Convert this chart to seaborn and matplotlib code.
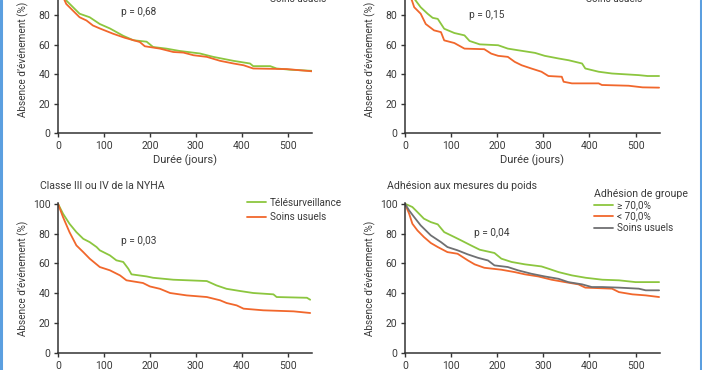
import numpy as np
import matplotlib
matplotlib.use("Agg")
import matplotlib.pyplot as plt
import seaborn as sns
from matplotlib.lines import Line2D

# Kaplan-Meier curves (days, % event-free)
tl_tele_days = [0, 18, 47, 69, 91, 113, 142, 164, 193, 207, 236, 265, 309, 338, 382, 418, 425, 462, 476, 505, 553]
tl_tele_surv = [100, 90, 81, 78.6, 74, 71, 66, 63, 62, 58.4, 57.3, 55.7, 54, 51.7, 49, 47.2, 45.4, 45.4, 43.8, 43, 42.2]
tl_usual_days = [0, 18, 47, 62, 76, 91, 120, 145, 178, 189, 222, 251, 273, 295, 324, 353, 382, 404, 425, 498, 553]
tl_usual_surv = [100, 87.6, 78.6, 76.4, 73, 71, 67.4, 64.7, 61.8, 58.9, 57.3, 55, 54.6, 52.8, 51.7, 49, 47.2, 46, 43.8, 43.4, 41.9]

tr_tele_days = [0, 23, 34, 49, 60, 71, 85, 107, 129, 140, 162, 202, 223, 245, 282, 303, 333, 355, 384, 391, 420, 449, 507, 526, 551]
tr_tele_surv = [100, 90, 85.4, 81, 78.2, 77.5, 70.8, 67.9, 66.3, 62.5, 60.2, 59.6, 57.3, 56.2, 54.4, 52.4, 50.6, 49.4, 47.2, 43.8, 41.6, 40.4, 39.3, 38.7, 38.7]
tr_usual_days = [0, 15, 20, 34, 45, 63, 78, 85, 107, 129, 172, 187, 202, 223, 238, 253, 274, 296, 311, 340, 344, 362, 420, 427, 485, 515, 551]
tr_usual_surv = [100, 90, 85.4, 81, 74, 69.7, 68.5, 62.9, 61.1, 57.3, 56.9, 53.9, 52.4, 51.7, 48.3, 46, 43.8, 41.6, 38.7, 38.2, 34.8, 33.7, 33.7, 32.6, 32.1, 31, 30.8]

bl_tele_days = [0, 11, 25, 40, 55, 69, 84, 91, 113, 127, 142, 153, 160, 193, 207, 251, 324, 345, 367, 397, 425, 469, 476, 542, 549]
bl_tele_surv = [100, 93.3, 86.6, 81, 76.5, 74.3, 71, 68.8, 65.4, 62.1, 61, 56.5, 52.7, 51.3, 50.4, 49.1, 48.2, 45.3, 43, 41.5, 40.2, 39.3, 37.5, 37, 35.7]
bl_usual_days = [0, 11, 25, 40, 55, 69, 91, 113, 135, 149, 185, 200, 222, 244, 280, 324, 353, 367, 389, 404, 447, 513, 549]
bl_usual_surv = [100, 91, 81, 72.1, 67.6, 63.2, 57.6, 55.4, 52, 48.7, 46.9, 44.6, 43, 40.2, 38.6, 37.5, 35.3, 33.5, 31.9, 29.7, 28.6, 27.9, 26.8]

br_high_days = [0, 16, 27, 41, 56, 71, 85, 107, 122, 143, 162, 194, 209, 231, 260, 296, 311, 333, 362, 392, 428, 464, 500, 551]
br_high_surv = [100, 97.8, 94.4, 90, 87.7, 86.2, 81, 77.7, 75.4, 72.1, 69.2, 67, 63.2, 61, 59.4, 58, 56.5, 54.2, 52, 50.4, 49.1, 48.7, 47.5, 47.5]
br_low_days = [0, 9, 16, 27, 41, 56, 71, 92, 114, 136, 151, 172, 209, 238, 260, 289, 318, 347, 376, 391, 449, 464, 493, 522, 551]
br_low_surv = [100, 93.3, 86.6, 82.1, 77.7, 73.7, 71, 67.6, 66.5, 62.1, 59.4, 57.1, 55.8, 54.2, 52.7, 51.3, 49.1, 47.5, 46, 43.8, 43.1, 40.8, 39.3, 38.6, 37.5]
br_usual_days = [0, 9, 20, 34, 56, 78, 92, 114, 136, 158, 180, 194, 223, 245, 274, 303, 333, 354, 384, 405, 427, 464, 507, 522, 551]
br_usual_surv = [100, 95.5, 91, 85.5, 78.8, 74.3, 71, 68.8, 66.1, 63.8, 62, 58.7, 57.6, 55.4, 53.1, 51.3, 49.7, 47.5, 46, 44.2, 44.2, 43.8, 43.1, 42, 42]

p_values = ["p = 0,68", "p = 0,15", "p = 0,03", "p = 0,04"]
titles = ["", "", "Classe III ou IV de la NYHA", "Adhésion aux mesures du poids"]
x_ticks = [0, 100, 200, 300, 400, 500]
y_ticks = [0, 20, 40, 60, 80, 100]

GREEN = "#8cc63f"
ORANGE = "#f1672c"
GREY = "#6f7072"
TEXT = "#3a3a3a"

sns.set_theme(style="ticks")
plt.rcParams["font.family"] = ["Roboto", "DejaVu Sans"]
plt.rcParams["axes.edgecolor"] = "#333333"
plt.rcParams["xtick.color"] = "#333333"
plt.rcParams["ytick.color"] = "#333333"

fig = plt.figure(figsize=(7.02, 3.70), dpi=100)
W, H = 702, 370

def px_axes(left, right, y0, y100):
    return fig.add_axes([left / W, (H - y0) / H, (right - left) / W, (y0 - y100) / H])

axes = [
    px_axes(58, 312, 133, -15),
    px_axes(405, 660, 133, -15),
    px_axes(58, 312, 353, 203),
    px_axes(405, 660, 353, 203),
]

series = [
    [(tl_tele_days, tl_tele_surv, GREEN, "Télésurveillance"), (tl_usual_days, tl_usual_surv, ORANGE, "Soins usuels")],
    [(tr_tele_days, tr_tele_surv, GREEN, "Télésurveillance"), (tr_usual_days, tr_usual_surv, ORANGE, "Soins usuels")],
    [(bl_tele_days, bl_tele_surv, GREEN, "Télésurveillance"), (bl_usual_days, bl_usual_surv, ORANGE, "Soins usuels")],
    [(br_high_days, br_high_surv, GREEN, "≥ 70,0%"), (br_low_days, br_low_surv, ORANGE, "< 70,0%"),
     (br_usual_days, br_usual_surv, GREY, "Soins usuels")],
]

p_pos = [(0.248, 0.818), (0.251, 0.797), (0.248, 0.747), (0.27, 0.80)]
leg_pos = [(0.744, 1.035), (0.62, 1.035), (0.744, 1.035), (0.74, 1.095)]

for i, ax in enumerate(axes):
    for d, s, c, lab in series[i]:
        sns.lineplot(x=d, y=s, ax=ax, color=c, lw=1.3, label=lab, estimator=None)
    ax.set_xlim(0, 553)
    ax.set_ylim(0, 100.5)
    ax.set_xticks(x_ticks)
    ax.set_yticks(y_ticks)
    ax.tick_params(labelsize=7.5, length=3, width=1, pad=2.5, labelcolor=TEXT)
    ax.spines[["top", "right"]].set_visible(False)
    ax.spines[["left", "bottom"]].set_linewidth(1.1)
    ax.set_ylabel("Absence d’événement (%)", fontsize=7.2, color=TEXT, labelpad=3)
    ax.set_xlabel("Durée (jours)", fontsize=8, color=TEXT, labelpad=2.5)
    ax.text(p_pos[i][0], p_pos[i][1], p_values[i], transform=ax.transAxes,
            fontsize=7.3, color=TEXT, va="center", ha="left")
    if titles[i]:
        ax.text(-0.07, 1.113, titles[i], transform=ax.transAxes,
                fontsize=7.6, color=TEXT, va="center", ha="left")
    if i == 3:
        leg = ax.legend(loc="upper left", bbox_to_anchor=leg_pos[i], frameon=False,
                        fontsize=7.2, title="Adhésion de groupe", title_fontsize=7.6,
                        borderpad=0, borderaxespad=0, handlelength=1.9,
                        handletextpad=0.4, labelspacing=0.15, alignment="left")
        leg.get_title().set_color(TEXT)
        leg._legend_box.sep = 1
    else:
        leg = ax.legend(loc="upper left", bbox_to_anchor=leg_pos[i], frameon=False,
                        fontsize=7.2, borderpad=0, borderaxespad=0, handlelength=1.9,
                        handletextpad=0.4, labelspacing=0.45)
    for t in leg.get_texts():
        t.set_color(TEXT)

# blue frame edges of the cropped figure
for xf in (1.0 / W, 700.5 / W):
    fig.add_artist(Line2D([xf, xf], [0, 1], transform=fig.transFigure, color="#5b9fe0", lw=2.2))

fig.savefig("out.png", dpi=100, facecolor="white")
